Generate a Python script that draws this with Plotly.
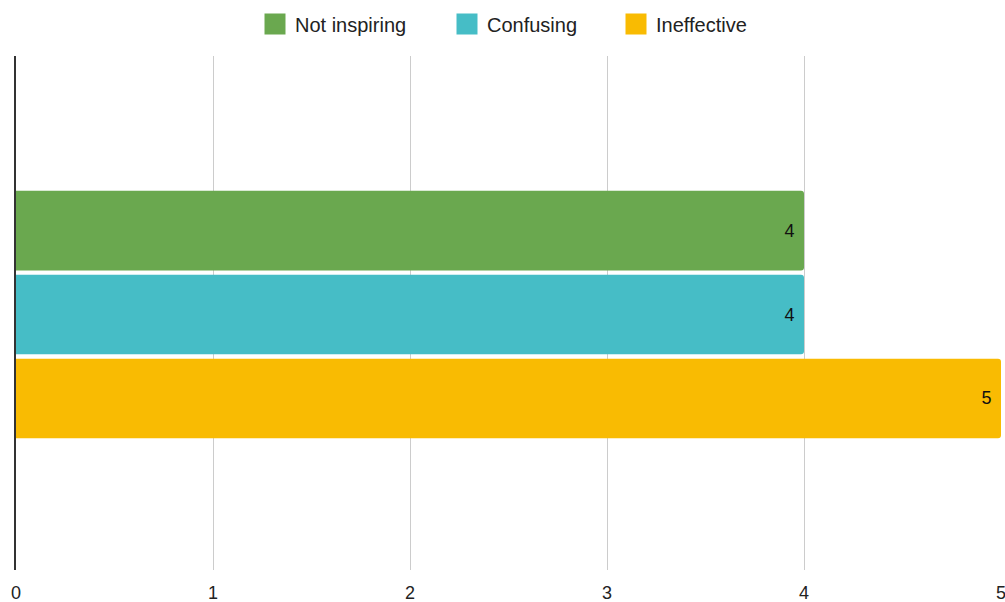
import plotly.graph_objects as go

# Survey responses: one group, three reasons
category = [0]
series_names = ["Not inspiring", "Confusing", "Ineffective"]
series_values = [[4], [4], [5]]
series_colors = ["#6aa84f", "#46bdc6", "#f9bb02"]
x_ticks = [0, 1, 2, 3, 4, 5]

FONT = "Arial"
legend_widths = [147, 124, 110]

fig = go.Figure()
for name, vals, color in zip(series_names, series_values, series_colors):
    fig.add_trace(go.Bar(
        y=category,
        x=vals,
        name=name,
        orientation="h",
        showlegend=False,
        marker=dict(color=color, line=dict(width=0), cornerradius=3),
        texttemplate="%{x}\u00a0\u200a",
        textposition="inside",
        insidetextanchor="end",
        textfont=dict(family=FONT, size=18, color="#111111"),
        cliponaxis=False,
        hoverinfo="x+name",
    ))

# Legend entries with large square swatches
for name, color, lw in zip(series_names, series_colors, legend_widths):
    fig.add_trace(go.Scatter(
        x=[None], y=[None],
        mode="markers",
        name=name,
        marker=dict(symbol="square", size=16, color=color,
                    line=dict(color=color, width=5)),
        legendwidth=lw,
        showlegend=True,
    ))

fig.update_layout(
    width=1005,
    height=602,
    margin=dict(l=16, r=4, t=56, b=32, autoexpand=False),
    paper_bgcolor="white",
    plot_bgcolor="white",
    barmode="group",
    bargap=0.51,
    bargroupgap=0.052,
    font=dict(family=FONT, size=18, color="#222222"),
    legend=dict(
        orientation="h",
        xref="container", x=255 / 1005, xanchor="left",
        yref="container", y=1 - 24 / 602, yanchor="middle",
        font=dict(family=FONT, size=20, color="#222222"),
        itemsizing="trace",
        traceorder="normal",
    ),
    showlegend=True,
)

fig.update_xaxes(
    range=[0, 5],
    tickvals=x_ticks,
    ticktext=[str(t) for t in x_ticks],
    showgrid=True,
    gridcolor="#cccccc",
    gridwidth=1,
    zeroline=False,
    showline=False,
    ticks="",
    ticklabelstandoff=10,
    ticklabeloverflow="allow",
    automargin=False,
    tickfont=dict(family=FONT, size=18, color="#222222"),
    fixedrange=True,
)
fig.update_yaxes(
    range=[0.497, -0.503],
    showticklabels=False,
    showgrid=False,
    zeroline=False,
    showline=True,
    linecolor="#333333",
    linewidth=1.5,
    ticks="",
    automargin=False,
    fixedrange=True,
)

fig.write_html("out.html")
